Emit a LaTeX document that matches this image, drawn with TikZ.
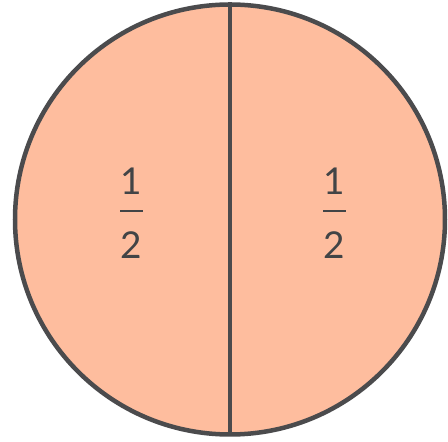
\documentclass[tikz,border=0pt]{standalone}
\usepackage{fontspec}
\setmainfont{Lato}
\definecolor{peach}{HTML}{FEBD9E}
\definecolor{edge}{HTML}{4B4B4D}
\definecolor{txt}{HTML}{424446}
\begin{document}
\begin{tikzpicture}[x=1pt,y=1pt,
  digit/.style={text=txt,font=\fontsize{37}{40}\selectfont,inner sep=0pt,anchor=base},
  fracbar/.style={draw=txt,line width=1.6pt}]
\useasboundingbox (0,0) rectangle (448,442);
\coordinate (c) at (230,222.5);
\fill[peach] (c) circle[radius=215];
\coordinate (top) at (230,442-2.5);
\coordinate (bot) at (230,442-436.5);
\draw[edge,line width=4.5pt] (top) -- (bot);
\draw[edge,line width=4.5pt] (c) circle[radius=215];
% left fraction
\node[digit] (n1) at (131.5,247) {1};
\coordinate (b1l) at (120,231);
\coordinate (b1r) at (142.7,231);
\draw[fracbar] (b1l) -- (b1r);
\node[digit] (d1) at (131.5,183) {2};
% right fraction
\node[digit] (n2) at (334.7,247) {1};
\coordinate (b2l) at (323.3,231);
\coordinate (b2r) at (346,231);
\draw[fracbar] (b2l) -- (b2r);
\node[digit] (d2) at (334.7,183) {2};
\end{tikzpicture}
\end{document}
